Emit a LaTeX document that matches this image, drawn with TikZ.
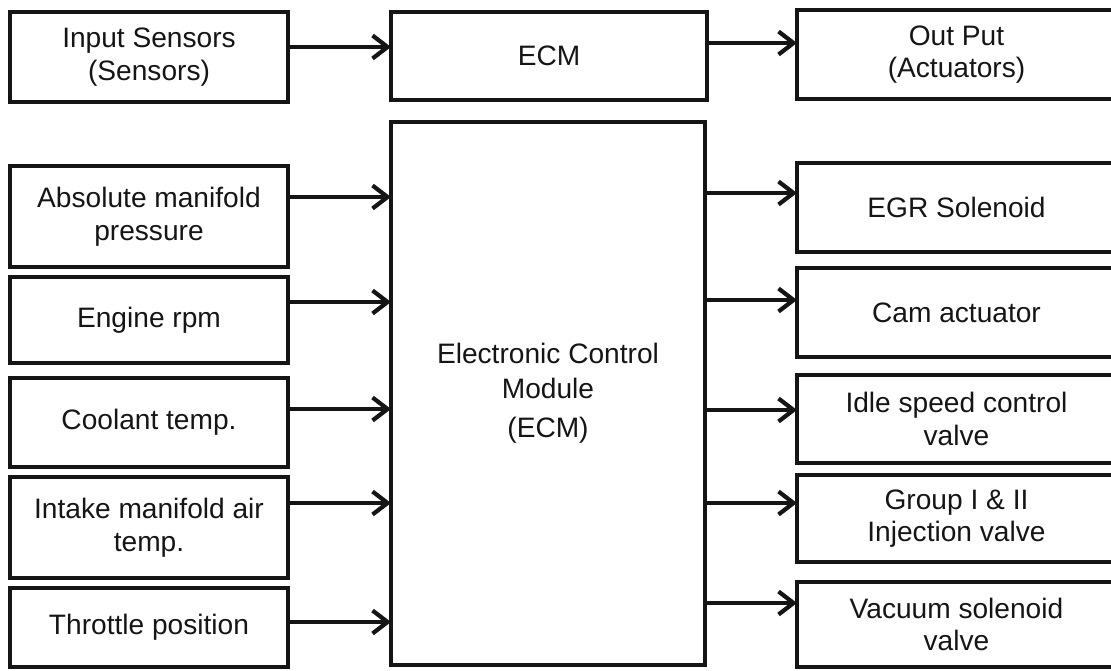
\documentclass[tikz,border=0pt]{standalone}
\usepackage{fontspec}
\setmainfont{Liberation Sans}
\usetikzlibrary{arrows.meta,positioning}
\definecolor{ScanInk}{HTML}{151515}

\begin{document}
\begin{tikzpicture}[
    blk/.style={
      draw=ScanInk,
      line width=2.6pt,
      minimum width=#1,
      inner sep=2pt,
      outer sep=0pt,
      align=center,
      text=ScanInk,
      font=\fontsize{16}{18.5}\selectfont
    },
    sig/.style={
      draw=ScanInk,
      line width=2.4pt,
      -{Straight Barb[length=3mm,width=4.6mm,line width=2.4pt]}
    }
  ]

  % Page frame
  \useasboundingbox (0,0) rectangle (22.22,-13.42);
  \clip (0,0) rectangle (22.22,-13.42);

  % Top row
  \node[blk=5.56cm, minimum height=1.80cm] (insens) at (2.98,-1.14)
    {Input Sensors\\(Sensors)};
  \node[blk=6.32cm, minimum height=1.76cm] (ecmtop) at (10.98,-1.12) {ECM};
  \node[blk=6.38cm, minimum height=1.78cm] (outp)   at (19.13,-1.09)
    {Out Put\\(Actuators)};

  % Control module
  \node[blk=6.28cm, minimum height=10.86cm] (ecm) at (10.96,-7.87)
    {Electronic Control\\[1pt]Module\\[4pt](ECM)};

  % Sensors
  \node[blk=5.56cm, minimum height=2.02cm] (absp) at (2.98,-4.33)
    {Absolute manifold\\pressure};
  \node[blk=5.56cm, minimum height=1.72cm] (rpm)  at (2.98,-6.40)
    {Engine rpm};
  \node[blk=5.56cm, minimum height=1.78cm] (cool) at (2.98,-8.45)
    {Coolant temp.};
  \node[blk=5.56cm, minimum height=2.02cm] (iat)  at (2.98,-10.55)
    {Intake manifold air\\temp.};
  \node[blk=5.56cm, minimum height=1.58cm] (thr)  at (2.98,-12.55)
    {Throttle position};

  % Actuators
  \node[blk=6.38cm, minimum height=1.78cm] (egr)  at (19.13,-4.15)
    {EGR Solenoid};
  \node[blk=6.38cm, minimum height=1.78cm] (cam)  at (19.13,-6.25)
    {Cam actuator};
  \node[blk=6.38cm, minimum height=1.76cm] (idle) at (19.13,-8.38)
    {Idle speed control\\valve};
  \node[blk=6.38cm, minimum height=1.74cm] (grp)  at (19.13,-10.37)
    {Group I \& II\\Injection valve};
  \node[blk=6.38cm, minimum height=1.70cm] (vac)  at (19.13,-12.49)
    {Vacuum solenoid\\valve};

  % Signal flow
  \draw[sig] (insens.east |- 0,-0.94) -- (ecmtop.west |- 0,-0.94);
  \draw[sig] (ecmtop.east |- 0,-0.86) -- (outp.west |- 0,-0.86);
  \foreach \src/\yy in {absp/-3.94, rpm/-6.04, cool/-8.18, iat/-10.06, thr/-12.44}
    \draw[sig] (\src.east |- 0,\yy) -- (ecm.west |- 0,\yy);
  \foreach \dst/\yy in {egr/-3.86, cam/-6.00, idle/-8.20, grp/-10.06, vac/-12.06}
    \draw[sig] (ecm.east |- 0,\yy) -- (\dst.west |- 0,\yy);

\end{tikzpicture}
\end{document}
